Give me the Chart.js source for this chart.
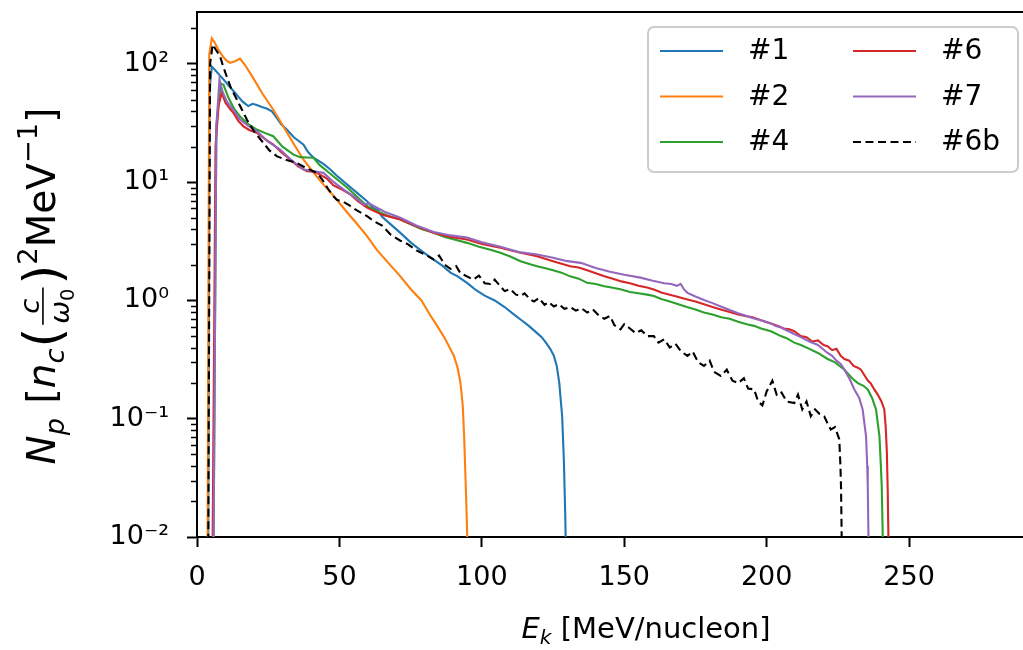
<!DOCTYPE html>
<html>
<head>
<meta charset="utf-8">
<script src="https://cdn.jsdelivr.net/npm/chart.js@4.4.1/dist/chart.umd.min.js"></script>
<style>
  html, body { margin: 0; padding: 0; background: #fff; overflow: hidden; }
</style>
</head>
<body>
<canvas id="spectrum" width="1023" height="650"></canvas>
<script>
const FONT = '"DejaVu Sans", sans-serif';

// energy [MeV/nucleon], N_p
const run1 = [[3.6,1e-5],[4.4,60],[5.2,95],[6.5,88],[8,80],[9.3,74],[11,66],[12.8,59],[14.5,53],[16,48],[18,44],[19.5,46],[21,45],[23,43],[24.5,42],[26.3,39.8],[28,35],[29.5,31],[31.5,27.9],[34,24],[37.4,20.8],[39,18],[40.9,16.1],[43,15],[44.5,14.2],[46.8,12.8],[49,11.4],[52.6,9.6],[56,8.2],[59.7,6.9],[62,6.0],[63.5,5.8],[65,5.1],[68,4.4],[71.4,3.73],[75,3.1],[79,2.6],[83.1,2.22],[86,1.98],[89,1.72],[91.5,1.6],[94.8,1.41],[98,1.22],[101,1.1],[104.5,1.0],[108,0.88],[111,0.77],[113.6,0.69],[116.5,0.61],[119.4,0.53],[121,0.49],[122.5,0.44],[124,0.39],[125.3,0.34],[126.3,0.28],[127.2,0.2],[128.2,0.105],[128.8,0.045],[129.3,0.015],[129.7,0.004]];
const run2 = [[3.3,1e-5],[4.3,120],[5.2,165],[6.2,152],[7.5,132],[9.3,114],[10.5,106],[11.6,102],[13.5,106],[15.1,111],[17,97],[20,74],[23,56],[26.8,41],[30,30.5],[33.5,22],[37.4,15.5],[41,12.0],[44.5,9.5],[47.9,7.7],[52.6,5.6],[56,4.5],[59.7,3.5],[63,2.7],[67,2.1],[71.4,1.6],[75,1.25],[78.8,1.0],[81.9,0.75],[84.3,0.61],[87,0.48],[90.2,0.34],[91.5,0.27],[92.5,0.2],[93.3,0.13],[93.8,0.07],[94.3,0.03],[94.8,0.012],[95.2,0.004]];
const run4 = [[5.0,1e-5],[6.8,30],[8.3,68],[9.3,67],[11,52],[13,42],[15.1,36],[18,31],[21,27.9],[24,26],[26.8,24.5],[30,20],[33.9,17.1],[36.2,16.3],[38.5,16.2],[40.9,16.1],[43,14],[46.8,11.8],[50,10.2],[53,8.9],[56,7.6],[59.7,6.3],[63,5.7],[67,5.2],[71.4,4.84],[75,4.4],[79,4.0],[83.1,3.73],[87,3.45],[91,3.25],[94.8,3.07],[99,2.85],[103,2.68],[106.5,2.53],[110,2.35],[113.6,2.15],[117,2.02],[119.4,1.95],[122,1.88],[125,1.8],[128,1.72],[131,1.6],[134,1.53],[137,1.41],[140,1.38],[143,1.32],[146,1.28],[149,1.24],[152,1.18],[155,1.15],[158,1.12],[160.4,1.09],[163,1.03],[166,0.98],[169,0.93],[172,0.88],[175,0.84],[178,0.79],[181,0.76],[184,0.72],[187,0.7],[190,0.66],[193,0.63],[195.6,0.61],[198,0.58],[201.5,0.55],[205,0.5],[207,0.48],[209.7,0.44],[212,0.42],[215,0.39],[218,0.36],[221.4,0.32],[224,0.3],[227.3,0.26],[230,0.22],[232,0.2],[234,0.19],[235.5,0.177],[237,0.15],[238.4,0.12],[239.6,0.071],[240.1,0.04],[240.4,0.027],[240.7,0.012],[241,0.004]];
const run6 = [[4.6,1e-5],[6.5,20],[7.6,45],[8.7,57],[10,47],[11.5,42],[12.8,38.6],[14.5,33],[16.3,29.7],[18.5,27.5],[21,26.2],[24,23],[26.8,20.8],[29.5,18],[32.7,15.6],[35.5,13.6],[38.6,12.4],[40.5,12.3],[42.1,12.0],[45.5,10.8],[47.9,9.4],[50,8.9],[53.8,7.9],[56.5,6.9],[59.7,6.1],[65,5.3],[71.4,4.84],[77,4.25],[83.1,3.73],[89,3.45],[94.8,3.28],[100,3.0],[106.5,2.79],[113.6,2.53],[119.4,2.37],[125,2.15],[131,1.95],[134,1.9],[137,1.8],[140,1.7],[143,1.6],[146,1.53],[149,1.45],[152,1.4],[155,1.33],[158,1.29],[160.4,1.24],[163,1.17],[166,1.12],[169,1.07],[172.2,1.02],[175,0.98],[178,0.93],[181,0.88],[183.9,0.84],[187,0.8],[190,0.76],[192.5,0.74],[195,0.72],[198,0.68],[201.5,0.64],[204,0.61],[206,0.58],[208,0.57],[209.7,0.55],[212,0.5],[214,0.49],[216,0.45],[218,0.46],[220,0.42],[221.4,0.41],[223,0.38],[224.5,0.39],[226,0.34],[227.3,0.32],[229,0.31],[230.5,0.28],[232,0.27],[233.1,0.26],[234.5,0.23],[235.5,0.21],[236.5,0.2],[237.8,0.177],[239,0.16],[240.3,0.14],[241.3,0.12],[241.8,0.085],[242.2,0.052],[242.5,0.025],[242.7,0.012],[243,0.004]];
const run7 = [[5.0,1e-5],[6.8,30],[7.9,74],[9,58],[10.5,48],[12.8,41],[15,34],[18,30],[21,27],[25,22],[29.2,18.9],[33,15.5],[37.4,12.8],[41,12.4],[44.4,12.0],[48,10],[52,8.5],[56,7.3],[58.5,6.5],[60.5,6.6],[62.5,6.2],[66,5.6],[71.4,5.0],[77,4.3],[83.1,3.8],[89,3.55],[94.8,3.4],[100,3.1],[106.5,2.85],[113.6,2.55],[119.4,2.45],[125,2.3],[130,2.15],[134.7,2.08],[140,1.88],[145,1.75],[150,1.65],[155.7,1.56],[160,1.47],[164,1.4],[166.5,1.38],[168.5,1.33],[169.8,1.38],[171,1.24],[172.2,1.16],[175,1.08],[178,1.01],[181,0.95],[183.9,0.89],[187,0.83],[190,0.78],[193,0.74],[195,0.71],[198,0.68],[201.5,0.64],[203,0.61],[205,0.59],[207,0.56],[209.7,0.52],[212,0.49],[215,0.45],[218,0.42],[221.4,0.36],[223,0.34],[224.5,0.31],[226,0.29],[227.3,0.26],[229,0.22],[230.8,0.177],[232.5,0.15],[233.7,0.12],[234.9,0.071],[235.3,0.04],[235.5,0.027],[235.7,0.012],[236,0.004]];
const run6b = [[3.5,1e-5],[4.6,100],[5.5,146],[6.8,130],[8.1,116],[9.2,95],[10.4,78.7],[12,62],[14,50],[15.8,41],[17.5,33.9],[20,27],[23.3,21.5],[25.5,18.5],[28,16.6],[31,15.5],[35,14.6],[38,13.3],[42.1,12],[44,10.5],[46,8.8],[47.9,7.6],[49.1,7.1],[51.5,6.8],[53.8,6.3],[56,5.8],[59.7,5.16],[62,4.7],[65,4.3],[68,3.6],[71.4,3.2],[74,3.0],[77,2.65],[80,2.45],[83.1,2.22],[85,2.4],[87,2.0],[89,1.85],[91,1.95],[92.5,1.7],[94.8,1.6],[97,1.5],[99,1.62],[101,1.4],[103,1.38],[104.5,1.5],[106.5,1.32],[108,1.2],[110,1.25],[112,1.12],[113.6,1.09],[115,1.15],[117,1.02],[118.3,0.98],[120,1.05],[122,0.92],[123.5,0.97],[125.3,0.89],[127,0.93],[129,0.85],[131,0.88],[133,0.82],[135,0.86],[137,0.79],[139,0.84],[141,0.75],[143,0.7],[145,0.74],[146.5,0.62],[148.7,0.57],[150,0.63],[152,0.58],[154,0.53],[156,0.56],[158,0.5],[160.4,0.5],[162,0.44],[164,0.47],[166,0.4],[168,0.43],[170,0.37],[172.2,0.34],[174,0.37],[176,0.3],[178,0.28],[180,0.31],[181.5,0.25],[183.9,0.23],[186,0.26],[188,0.21],[190,0.2],[192,0.22],[193.5,0.18],[195.6,0.177],[197,0.14],[198.5,0.13],[200,0.17],[202,0.21],[203.5,0.16],[205,0.17],[207,0.14],[209.7,0.136],[211,0.16],[212.5,0.12],[214,0.14],[215.5,0.105],[217,0.12],[218.5,0.11],[220.2,0.105],[221.5,0.09],[222.5,0.081],[224,0.085],[225.5,0.067],[225.9,0.04],[226.1,0.027],[226.3,0.012],[226.5,0.004]];

const seriesLabels = ['#1', '#2', '#4', '#6', '#7', '#6b'];
const seriesData = [run1, run2, run4, run6, run7, run6b];
const seriesColors = ['#1f77b4', '#ff7f0e', '#2ca02c', '#d62728', '#9467bd', '#000000'];

const xTicks = [0, 50, 100, 150, 200, 250];
const xTickLabels = ['0', '50', '100', '150', '200', '250'];
const yTicks = [0.01, 0.1, 1, 10, 100];
const yTickLabels = ['10\u207B\u00B2', '10\u207B\u00B9', '10\u2070', '10\u00B9', '10\u00B2'];

const datasets = seriesData.map(function (pts, i) {
    return {
        label: seriesLabels[i],
        data: pts.map(function (p) { return { x: p[0], y: p[1] }; }),
        borderColor: seriesColors[i],
        borderWidth: 2.1,
        borderDash: i === 5 ? [8, 4.5] : [],
        pointRadius: 0,
        tension: 0,
        fill: false,
        order: seriesLabels.length - i
    };
});

// draws what chart.js can't: top spine, minor log ticks, math titles, 2-col legend
const decorPlugin = {
    id: 'decor',
    beforeDraw(chart) {
        const ctx = chart.ctx;
        ctx.save();
        ctx.fillStyle = '#fff';
        ctx.fillRect(0, 0, chart.width, chart.height);
        ctx.restore();
    },
    afterDraw(chart) {
        const ctx = chart.ctx;
        const area = chart.chartArea;
        const yScale = chart.scales.y;

        ctx.save();
        ctx.strokeStyle = '#000';
        ctx.lineWidth = 2;
        ctx.beginPath();
        ctx.moveTo(area.left - 1, area.top);
        ctx.lineTo(area.right, area.top);
        ctx.stroke();

        // minor ticks
        ctx.lineWidth = 1.5;
        for (let e = -2; e <= 2; e++) {
            for (let k = 2; k <= 9; k++) {
                const v = k * Math.pow(10, e);
                if (v > yScale.max) continue;
                const py = Math.round(yScale.getPixelForValue(v)) + 0.5;
                ctx.beginPath();
                ctx.moveTo(area.left - 6, py);
                ctx.lineTo(area.left, py);
                ctx.stroke();
            }
        }
        ctx.restore();

        drawXTitle(ctx, 646, 638);
        drawYTitle(ctx, 55, 286);
        drawLegend(chart, area);
    }
};

function drawPieces(ctx, pieces, F) {
    let total = 0;
    pieces.forEach(function (p) {
        ctx.font = p.font;
        if (p.frac) {
            p.w = Math.max(ctx.measureText(p.num).width, ctx.measureText(p.den).width + p.subW) + 8;
        } else {
            p.w = ctx.measureText(p.t).width + (p.gap || 0);
        }
        total += p.w;
    });
    let x = -total / 2;
    pieces.forEach(function (p) {
        ctx.font = p.font;
        if (p.frac) {
            const cx = x + p.w / 2;
            ctx.textAlign = 'center';
            ctx.fillText(p.num, cx, -0.42 * F);
            const dw = ctx.measureText(p.den).width;
            ctx.textAlign = 'left';
            ctx.fillText(p.den, cx - (dw + p.subW) / 2, 0.36 * F);
            ctx.font = p.subFont;
            ctx.fillText('0', cx - (dw + p.subW) / 2 + dw, 0.48 * F);
            ctx.fillRect(x + 3, -0.33 * F, p.w - 6, 1.6);
        } else {
            ctx.textAlign = 'left';
            ctx.fillText(p.t, x, p.dy || 0);
        }
        x += p.w;
    });
}

function drawXTitle(ctx, cx, baseY) {
    const F = 29;
    ctx.save();
    ctx.translate(cx, baseY);
    ctx.fillStyle = '#000';
    ctx.textBaseline = 'alphabetic';
    drawPieces(ctx, [
        { t: 'E', font: 'italic ' + F + 'px ' + FONT },
        { t: 'k', font: 'italic ' + (F * 0.7) + 'px ' + FONT, dy: 6 },
        { t: ' [MeV/nucleon]', font: F + 'px ' + FONT }
    ], F);
    ctx.restore();
}

function drawYTitle(ctx, baseX, cy) {
    const F = 39;
    const it = 'italic ' + F + 'px ' + FONT;
    const itS = 'italic ' + (F * 0.7) + 'px ' + FONT;
    const rm = F + 'px ' + FONT;
    const rmS = (F * 0.7) + 'px ' + FONT;
    ctx.save();
    ctx.translate(baseX, cy);
    ctx.rotate(-Math.PI / 2);
    ctx.fillStyle = '#000';
    ctx.textBaseline = 'alphabetic';
    drawPieces(ctx, [
        { t: 'N', font: it },
        { t: 'p', font: itS, dy: 0.22 * F, gap: 2 },
        { t: ' [', font: rm },
        { t: 'n', font: it },
        { t: 'c', font: itS, dy: 0.22 * F, gap: 1 },
        { t: '(', font: (F * 1.3) + 'px ' + FONT, dy: 0.12 * F },
        { frac: true, num: 'c', den: '\u03C9', font: itS, subFont: (F * 0.5) + 'px ' + FONT, subW: F * 0.32 },
        { t: ')', font: (F * 1.3) + 'px ' + FONT, dy: 0.12 * F },
        { t: '2', font: rmS, dy: -0.46 * F },
        { t: 'MeV', font: rm },
        { t: '\u22121', font: rmS, dy: -0.46 * F },
        { t: ']', font: rm }
    ], F);
    ctx.restore();
}

function drawLegend(chart, area) {
    const ctx = chart.ctx;
    const bx = area.right - 375, by = area.top + 15, bw = 370, bh = 145;
    ctx.save();
    ctx.fillStyle = 'rgba(255,255,255,0.85)';
    ctx.strokeStyle = '#cccccc';
    ctx.lineWidth = 2;
    ctx.beginPath();
    ctx.roundRect(bx, by, bw, bh, 6);
    ctx.fill();
    ctx.stroke();

    ctx.font = '28px ' + FONT;
    ctx.textBaseline = 'middle';
    ctx.textAlign = 'left';
    chart.data.datasets.forEach(function (ds, i) {
        const col = Math.floor(i / 3), row = i % 3;
        const lx = bx + 12 + col * 193;
        const ly = by + 24 + row * 45.5;
        ctx.strokeStyle = ds.borderColor;
        ctx.lineWidth = 2;
        ctx.setLineDash(ds.borderDash || []);
        ctx.beginPath();
        ctx.moveTo(lx, ly);
        ctx.lineTo(lx + 63, ly);
        ctx.stroke();
        ctx.setLineDash([]);
        ctx.fillStyle = '#000';
        ctx.fillText(ds.label, lx + 88, ly + 1);
    });
    ctx.restore();
}

new Chart(document.getElementById('spectrum'), {
    type: 'line',
    data: { datasets: datasets },
    options: {
        responsive: false,
        animation: false,
        layout: { padding: { top: 12, right: 0, left: 0, bottom: 0 } },
        plugins: { legend: { display: false }, tooltip: { enabled: false } },
        scales: {
            x: {
                type: 'linear',
                min: 0,
                max: 290,
                afterBuildTicks: function (axis) { axis.ticks = xTicks.map(function (v) { return { value: v }; }); },
                afterFit: function (scale) {
                    scale.height = 113;
                    scale.paddingLeft = 0;
                    scale.paddingRight = 0;
                },
                ticks: {
                    color: '#000',
                    font: { family: FONT, size: 27 },
                    padding: 15,
                    maxRotation: 0,
                    autoSkip: false,
                    callback: function (v, i) { return xTickLabels[i]; }
                },
                grid: { drawOnChartArea: false, drawTicks: true, tickLength: 10, tickWidth: 2, tickColor: '#000', color: '#000' },
                border: { display: true, color: '#000', width: 2 }
            },
            y: {
                type: 'logarithmic',
                min: 0.01,
                max: 275,
                afterBuildTicks: function (axis) { axis.ticks = yTicks.map(function (v) { return { value: v }; }); },
                afterFit: function (scale) {
                    scale.width = 197;
                    scale.paddingTop = 0;
                    scale.paddingBottom = 0;
                },
                ticks: {
                    color: '#000',
                    font: { family: FONT, size: 27 },
                    padding: 18,
                    autoSkip: false,
                    callback: function (v, i) { return yTickLabels[i]; }
                },
                grid: { drawOnChartArea: false, drawTicks: true, tickLength: 10, tickWidth: 2, tickColor: '#000', color: '#000' },
                border: { display: true, color: '#000', width: 2 }
            }
        }
    },
    plugins: [decorPlugin]
});
</script>
</body>
</html>
